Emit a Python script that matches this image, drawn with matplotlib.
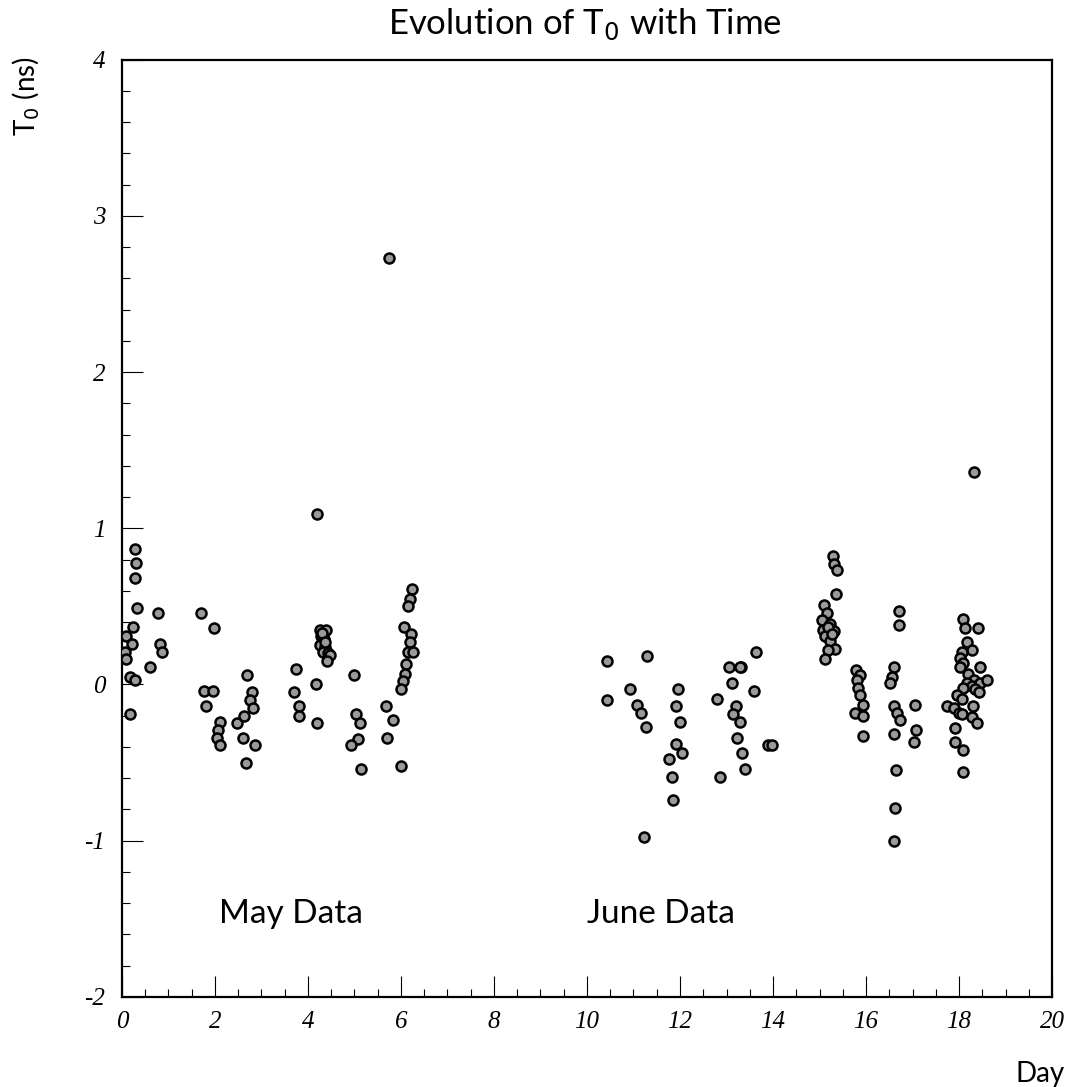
import matplotlib
matplotlib.use("Agg")
import matplotlib.pyplot as plt
import numpy as np
from matplotlib.ticker import MultipleLocator

# May data: day, T0 (ns)
may_day = [
    0.28, 0.30, 0.28, 0.32, 0.24, 0.09, 0.22, 0.07, 0.10, 0.17, 0.28, 0.17,
    0.78, 0.82, 0.87, 0.60,
    1.70, 1.99, 1.77, 1.95, 1.82, 2.12, 2.07, 2.04, 2.11,
    2.70, 2.79, 2.75, 2.82, 2.47, 2.62, 2.60, 2.86, 2.66,
    3.74, 3.70, 3.81, 3.81, 4.17, 4.20, 4.20,
    4.26, 4.39, 4.29, 4.34, 4.26, 4.37, 4.32, 4.44, 4.47, 4.42, 4.30, 4.36,
    4.99, 5.03, 5.12, 5.08, 4.92, 5.14,
    5.68, 5.82, 5.71, 6.00, 5.74,
    6.06, 6.22, 6.19, 6.16, 6.27, 6.12, 6.09, 6.04, 6.01, 6.24, 6.19, 6.16,
]
may_t0 = [
    0.87, 0.78, 0.68, 0.49, 0.37, 0.31, 0.26, 0.21, 0.16, 0.05, 0.03, -0.19,
    0.46, 0.26, 0.21, 0.11,
    0.46, 0.36, -0.04, -0.04, -0.14, -0.24, -0.29, -0.34, -0.39,
    0.06, -0.05, -0.10, -0.15, -0.25, -0.20, -0.34, -0.39, -0.50,
    0.10, -0.05, -0.14, -0.20, 0.00, -0.25, 1.09,
    0.35, 0.35, 0.31, 0.29, 0.25, 0.24, 0.21, 0.20, 0.19, 0.15, 0.33, 0.27,
    0.06, -0.19, -0.25, -0.35, -0.39, -0.54,
    -0.14, -0.23, -0.34, -0.52, 2.73,
    0.37, 0.32, 0.27, 0.21, 0.21, 0.13, 0.07, 0.02, -0.03, 0.61, 0.55, 0.50,
]

# June data: day, T0 (ns)
june_day = [
    10.44, 10.42, 11.28, 10.92, 11.08, 11.17, 11.27,
    11.95, 11.91, 11.99, 11.91, 12.05, 11.76, 11.82, 11.86, 11.23,
    12.85, 12.79, 13.06, 13.32, 13.28, 13.12, 13.63, 13.60, 13.21, 13.15,
    13.30, 13.22, 13.33, 13.40, 13.90, 13.97,
    15.28, 15.32, 15.38, 15.35, 15.10, 15.15, 15.05, 15.23, 15.08, 15.30,
    15.12, 15.23, 15.33, 15.19, 15.12, 15.19, 15.26,
    15.78, 15.87, 15.80, 15.83, 15.87, 15.94, 15.76, 15.94, 15.93,
    16.70, 16.70, 16.59, 16.55, 16.52, 16.61, 16.66, 16.72, 16.59, 16.65,
    16.62, 16.59, 17.05, 17.08, 17.04,
    18.33, 18.08, 18.13, 18.40, 18.16, 18.27, 18.06, 18.02, 18.09, 18.02,
    18.45, 18.20, 18.31, 18.16, 18.27, 18.45, 18.59, 18.09, 18.34, 18.42,
    17.95, 18.06, 17.73, 17.88, 17.99, 18.06, 18.29, 18.27, 18.38, 17.91,
    17.91, 18.08, 18.09,
]
june_t0 = [
    0.15, -0.10, 0.18, -0.03, -0.13, -0.18, -0.27,
    -0.03, -0.14, -0.24, -0.38, -0.44, -0.48, -0.59, -0.74, -0.98,
    -0.59, -0.09, 0.11, 0.11, 0.11, 0.01, 0.21, -0.04, -0.14, -0.19,
    -0.24, -0.34, -0.44, -0.54, -0.39, -0.39,
    0.82, 0.77, 0.73, 0.58, 0.51, 0.46, 0.41, 0.39, 0.35, 0.34,
    0.31, 0.28, 0.23, 0.22, 0.16, 0.37, 0.32,
    0.09, 0.06, 0.03, -0.02, -0.07, -0.13, -0.18, -0.20, -0.33,
    0.47, 0.38, 0.11, 0.05, 0.01, -0.14, -0.18, -0.23, -0.32, -0.55,
    -0.79, -1.00, -0.13, -0.29, -0.37,
    1.36, 0.42, 0.36, 0.36, 0.27, 0.22, 0.21, 0.17, 0.14, 0.11,
    0.11, 0.07, 0.03, 0.01, -0.01, 0.01, 0.03, -0.02, -0.03, -0.05,
    -0.07, -0.09, -0.14, -0.15, -0.18, -0.19, -0.14, -0.21, -0.25, -0.28,
    -0.37, -0.42, -0.56,
]

SANS = ["Lato", "DejaVu Sans"]
plt.rcParams["axes.unicode_minus"] = False

fig = plt.figure(figsize=(10.78, 10.87), dpi=100)
ax = fig.add_axes([0.113, 0.083, 0.863, 0.862])

marker_kw = dict(s=52, marker="o", facecolor="#9a9a9a", edgecolor="black",
                 linewidths=1.8, zorder=3)
ax.scatter(may_day, may_t0, **marker_kw)
ax.scatter(june_day, june_t0, **marker_kw)

ax.set_xlim(0, 20)
ax.set_ylim(-2, 4)
ax.xaxis.set_major_locator(MultipleLocator(2))
ax.xaxis.set_minor_locator(MultipleLocator(0.5))
ax.yaxis.set_major_locator(MultipleLocator(1))
ax.yaxis.set_minor_locator(MultipleLocator(0.2))
ax.tick_params(which="both", direction="in", top=False, right=False, width=0.8)
ax.tick_params(which="major", length=15)
ax.tick_params(which="minor", length=6)
ax.tick_params(axis="x", which="major", pad=10)
ax.tick_params(axis="y", which="major", pad=12)
for lab in ax.get_xticklabels() + ax.get_yticklabels():
    lab.set_fontfamily("Liberation Serif")
    lab.set_fontstyle("italic")
    lab.set_fontsize(18)
for sp in ax.spines.values():
    sp.set_linewidth(1.6)

ax.text(2.1, -1.47, "May Data", fontsize=24, family=SANS, va="center")
ax.text(10.0, -1.47, "June Data", fontsize=24, family=SANS, va="center")

fig.text(0.543, 0.978, "Evolution of T$_0$ with Time", fontsize=25,
         family=SANS, ha="center", va="center")
fig.text(0.024, 0.912, "T$_0$ (ns)", fontsize=20, family=SANS,
         rotation=90, ha="center", va="center")
fig.text(0.965, 0.012, "Day", fontsize=20, family=SANS, ha="center",
         va="center")

fig.savefig("out.png", dpi=100)
